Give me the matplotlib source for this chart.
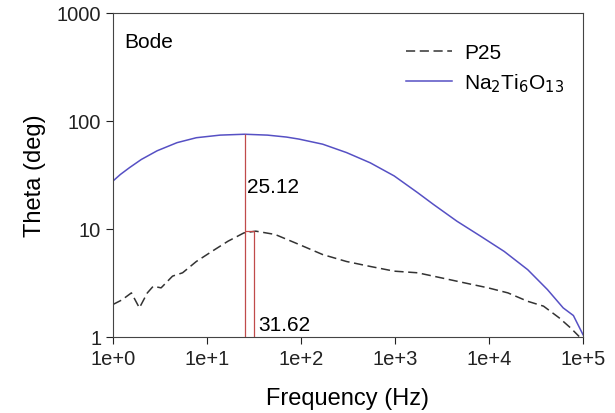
import math
import matplotlib
matplotlib.use("Agg")
import matplotlib.pyplot as plt
from matplotlib.ticker import FixedLocator, FuncFormatter, NullLocator

plt.rcParams["font.family"] = ["Liberation Sans", "DejaVu Sans"]

# Na2Ti6O13 curve
na_freq = [1.0, 1.2, 1.5, 2.0, 2.95, 4.8, 7.7, 13.8, 25.1, 44, 70, 95, 170, 305, 545, 980,
           1740, 2560, 4560, 8100, 14500, 25800, 41800, 61500, 79000, 100000]
na_theta = [27.8, 32, 37, 44, 53, 63, 70, 74, 75.4, 74, 71, 68, 61, 51, 41, 31,
            21.7, 16.9, 11.8, 8.6, 6.2, 4.2, 2.75, 1.86, 1.58, 1.05]

# P25 curve
p25_freq = [1.0, 1.24, 1.57, 1.91, 2.32, 2.68, 3.25, 4.3, 5.5, 7.7, 11.4, 16.7, 24.7,
            33, 53, 95, 170, 305, 545, 980, 1740, 3100, 5500, 9800, 15900, 25800,
            38000, 56000, 74000, 91000]
p25_theta = [2.0, 2.2, 2.56, 1.86, 2.56, 2.95, 2.85, 3.66, 3.93, 5.0, 6.24, 7.7, 9.2,
             9.55, 8.9, 7.2, 5.8, 5.0, 4.5, 4.07, 3.93, 3.53, 3.17, 2.85, 2.56, 2.14,
             1.93, 1.5, 1.21, 1.01]

# marker lines
peak_freqs = [25.12, 31.62]
peak_tops = [75.4, 9.6]

fig = plt.figure(figsize=(6.15, 4.14), dpi=100)
ax = fig.add_axes([0.1837, 0.1836, 0.7643, 0.7826])

ax.plot(p25_freq, p25_theta, color="#333333", lw=1.1, dashes=(6, 3), label="P25")
ax.plot(na_freq, na_theta, color="#5650c4", lw=1.1, label="Na$_2$Ti$_6$O$_{13}$")

ax.vlines(peak_freqs, 1, peak_tops, color="#c04a4a", lw=0.9)
ax.hlines(peak_tops[1], peak_freqs[0], peak_freqs[1], color="#c04a4a", lw=0.9)

ax.set_xscale("log")
ax.set_yscale("log")
ax.set_xlim(1, 1e5)
ax.set_ylim(1, 1000)

ax.xaxis.set_major_locator(FixedLocator([1, 10, 100, 1000, 1e4, 1e5]))
ax.xaxis.set_minor_locator(NullLocator())
ax.xaxis.set_major_formatter(FuncFormatter(lambda v, p: "1e+%d" % round(math.log10(v))))
ax.yaxis.set_major_locator(FixedLocator([1, 10, 100, 1000]))
ax.yaxis.set_minor_locator(NullLocator())
ax.yaxis.set_major_formatter(FuncFormatter(lambda v, p: "%d" % v))

ax.tick_params(direction="out", length=5, width=0.8, labelsize=14.5, colors="#222222")
for s in ax.spines.values():
    s.set_color("#444444")
    s.set_linewidth(0.8)

ax.set_xlabel("Frequency (Hz)", fontsize=17, labelpad=14)
ax.set_ylabel("Theta (deg)", fontsize=17, labelpad=8)

ax.text(0.025, 0.895, "Bode", transform=ax.transAxes, fontsize=15)
ax.text(26.5, 22, "25.12", fontsize=15)
ax.text(35, 1.17, "31.62", fontsize=15)

ax.legend(loc="upper right", bbox_to_anchor=(1.0, 0.965), frameon=False, fontsize=15,
          handlelength=2.2, handletextpad=0.6, labelspacing=0.45)

fig.savefig("out.png", dpi=100)
